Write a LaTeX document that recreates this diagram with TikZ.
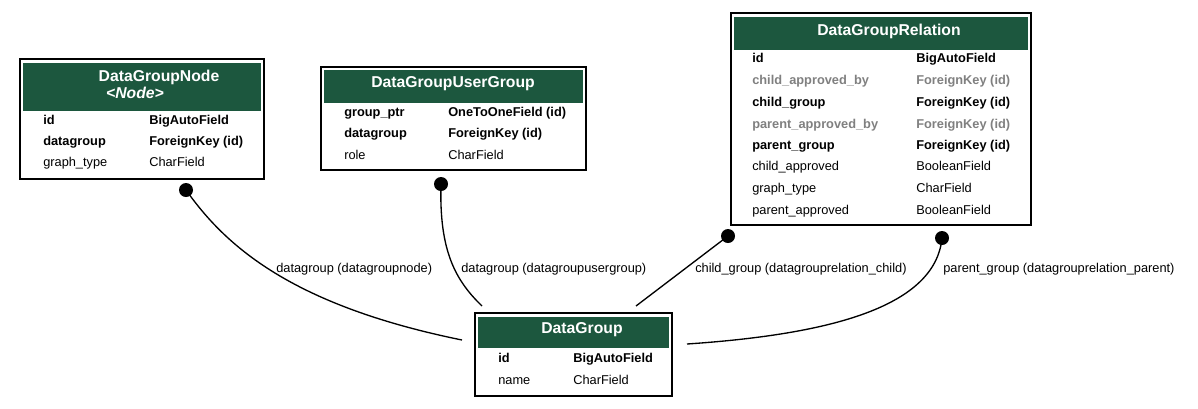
\documentclass[tikz,border=0pt]{standalone}
\usepackage{fontspec}
\setmainfont{Liberation Sans}
\usetikzlibrary{fit}
\definecolor{hdrgreen}{HTML}{1C573E}
\definecolor{nullgray}{HTML}{808080}

\begin{document}
\begin{tikzpicture}[x=0.75pt,y=-0.75pt]
        \tikzset{
          frame/.style={draw=black, line width=1pt, inner sep=0pt},
          header/.style={fill=hdrgreen, inner sep=0pt},
          title/.style={text=white, inner sep=0pt, font=\bfseries\fontsize{11.8}{13}\selectfont},
          fld/.style={anchor=west, inner sep=0pt, text height=7pt, text depth=1pt, font=\fontsize{9.6}{11}\selectfont},
          keyfld/.style={fld, font=\bfseries\fontsize{9.6}{11}\selectfont},
          nullfld/.style={keyfld, text=nullgray},
          dot/.style={circle, fill=black, inner sep=0pt, minimum size=10.5pt},
          lbl/.style={anchor=west, inner sep=0pt, text height=7pt, text depth=1pt, font=\fontsize{9.6}{11}\selectfont},
          rel/.style={line width=1pt}
        }
        \useasboundingbox (0,0) rectangle (1198,408);

	%---NODES---
        % DataGroupNode
        \node[header, fit={(23,63) (261,111)}] (nodehead) {};
        \node[frame, fit={(20,59) (264,179)}] (nodebox) {};
        \node[title] (nodetitle) at (159,77) {DataGroupNode};
        \node[title, font=\bfseries\itshape\fontsize{11.8}{13}\selectfont] (nodesub) at (135,93) {<Node>};
        \node[keyfld] (n1) at (43,120) {id};
        \node[keyfld] (n1t) at (149,120) {BigAutoField};
        \node[keyfld] (n2) at (43,141) {datagroup};
        \node[keyfld] (n2t) at (149,141) {ForeignKey (id)};
        \node[fld] (n3) at (43,162) {graph\_type};
        \node[fld] (n3t) at (149,162) {CharField};

        % DataGroupUserGroup
        \node[header, fit={(324,70) (583,103)}] (ughead) {};
        \node[frame, fit={(321,67) (586,170)}] (ugbox) {};
        \node[title] (ugtitle) at (453,84) {DataGroupUserGroup};
        \node[keyfld] (u1) at (344,112) {group\_ptr};
        \node[keyfld] (u1t) at (448,112) {OneToOneField (id)};
        \node[keyfld] (u2) at (344,133) {datagroup};
        \node[keyfld] (u2t) at (448,133) {ForeignKey (id)};
        \node[fld] (u3) at (344,155) {role};
        \node[fld] (u3t) at (448,155) {CharField};

        % DataGroupRelation
        \node[header, fit={(734,17) (1028,50)}] (relhead) {};
        \node[frame, fit={(731,13) (1031,225)}] (relbox) {};
        \node[title] (reltitle) at (889,31) {DataGroupRelation};
        \node[keyfld] (r1) at (752,58) {id};
        \node[keyfld] (r1t) at (916,58) {BigAutoField};
        \node[nullfld] (r2) at (752,80) {child\_approved\_by};
        \node[nullfld] (r2t) at (916,80) {ForeignKey (id)};
        \node[keyfld] (r3) at (752,102) {child\_group};
        \node[keyfld] (r3t) at (916,102) {ForeignKey (id)};
        \node[nullfld] (r4) at (752,124) {parent\_approved\_by};
        \node[nullfld] (r4t) at (916,124) {ForeignKey (id)};
        \node[keyfld] (r5) at (752,145) {parent\_group};
        \node[keyfld] (r5t) at (916,145) {ForeignKey (id)};
        \node[fld] (r6) at (752,166) {child\_approved};
        \node[fld] (r6t) at (916,166) {BooleanField};
        \node[fld] (r7) at (752,188) {graph\_type};
        \node[fld] (r7t) at (916,188) {CharField};
        \node[fld] (r8) at (752,210) {parent\_approved};
        \node[fld] (r8t) at (916,210) {BooleanField};

        % DataGroup
        \node[header, fit={(478,317) (669,348)}] (dghead) {};
        \node[frame, fit={(475,313) (672,396)}] (dgbox) {};
        \node[title] (dgtitle) at (582,330) {DataGroup};
        \node[keyfld] (g1) at (498,358) {id};
        \node[keyfld] (g1t) at (573,358) {BigAutoField};
        \node[fld] (g2) at (498,380) {name};
        \node[fld] (g2t) at (573,380) {CharField};

        % ends
        \node[dot] (d1) at (186,190) {};
        \node[dot] (d2) at (441,184) {};
        \node[dot] (d3) at (728,236) {};
        \node[dot] (d4) at (942,238) {};
        \coordinate (e1) at (462,340);
        \coordinate (e2) at (482,306);
        \coordinate (e3) at (636,306);
        \coordinate (e4) at (687,344);

	%---EDGES---
        \draw[rel] (d1.center) .. controls (225,245) and (290,305) .. (e1);
        \draw[rel] (d2.center) .. controls (439,250) and (455,280) .. (e2);
        \draw[rel] (d3.center) -- (e3);
        \draw[rel] (d4.center) .. controls (935,310) and (820,335) .. (e4);

	%---LABELS---
        \node[lbl] (l1) at (276,268) {datagroup (datagroupnode)};
        \node[lbl] (l2) at (461,268) {datagroup (datagroupusergroup)};
        \node[lbl] (l3) at (695,268) {child\_group (datagrouprelation\_child)};
        \node[lbl] (l4) at (943,268) {parent\_group (datagrouprelation\_parent)};

    \end{tikzpicture}
\end{document}
